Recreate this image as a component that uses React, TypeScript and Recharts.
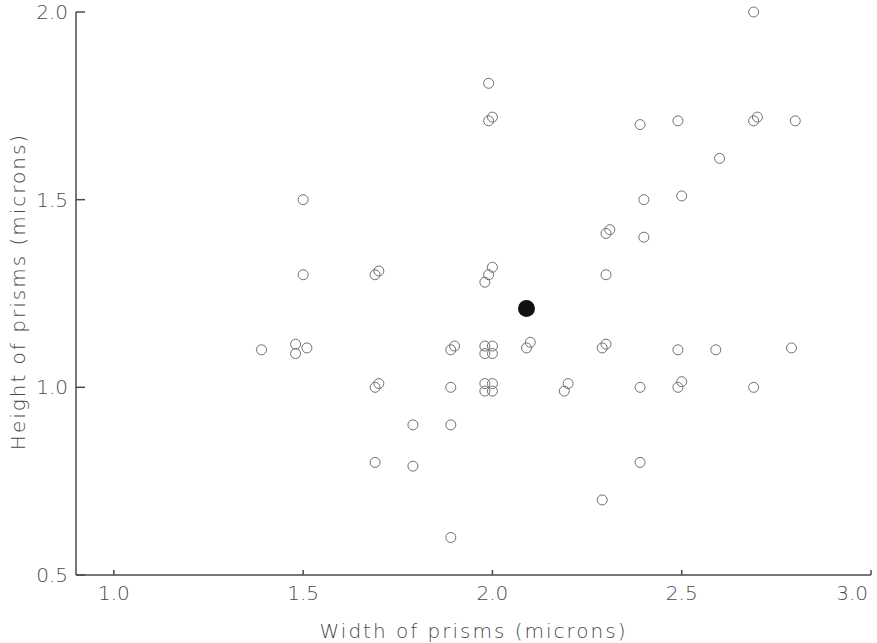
import React from 'react';
import { ScatterChart, Scatter, XAxis, YAxis } from 'recharts';

// open circles: width / height of prisms (microns)
const widths = [
  2.69, 1.99, 1.99, 2.0, 2.39, 2.49, 2.69, 2.7, 2.8, 2.6,
  1.5, 2.4, 2.5, 2.3, 2.31, 2.4,
  1.5, 1.69, 1.7, 1.98, 1.99, 2.0, 2.3,
  1.39, 1.48, 1.48, 1.51, 1.89, 1.9, 1.98, 2.0, 1.98, 2.0, 2.09, 2.1, 2.29, 2.3, 2.49, 2.59, 2.79,
  1.69, 1.7, 1.89, 1.98, 2.0, 1.98, 2.0, 2.19, 2.2, 2.39, 2.49, 2.5, 2.69,
  1.79, 1.89, 1.69, 1.79, 2.39, 2.29, 1.89,
];
const heights = [
  2.0, 1.81, 1.71, 1.72, 1.7, 1.71, 1.71, 1.72, 1.71, 1.61,
  1.5, 1.5, 1.51, 1.41, 1.42, 1.4,
  1.3, 1.3, 1.31, 1.28, 1.3, 1.32, 1.3,
  1.1, 1.09, 1.115, 1.105, 1.1, 1.11, 1.11, 1.11, 1.09, 1.09, 1.105, 1.12, 1.105, 1.115, 1.1, 1.1, 1.105,
  1.0, 1.01, 1.0, 1.01, 1.01, 0.99, 0.99, 0.99, 1.01, 1.0, 1.0, 1.015, 1.0,
  0.9, 0.9, 0.8, 0.79, 0.8, 0.7, 0.6,
];

// the single solid point
const meanWidth = [2.09];
const meanHeight = [1.21];

const xTicks = [1.0, 1.5, 2.0, 2.5, 3.0];
const yTicks = [0.5, 1.0, 1.5, 2.0];

const openData = widths.map((w, i) => ({ w, h: heights[i] }));
const meanData = meanWidth.map((w, i) => ({ w, h: meanHeight[i] }));

const INK = '#4a4a4a';
const FONT = '"DejaVu Sans", sans-serif';

const OpenDot = (props: any) => (
  <circle cx={props.cx} cy={props.cy} r={5} fill="none" stroke="#707070" strokeWidth={1} />
);
const SolidDot = (props: any) => <circle cx={props.cx} cy={props.cy} r={8.5} fill="#111" />;

// x tick label; the last one is pulled inside the frame
const XTick = ({ x, y, payload, index, visibleTicksCount }: any) => {
  const last = index === visibleTicksCount - 1;
  return (
    <text
      x={last ? x - 3 : x}
      y={y + 30}
      textAnchor={last ? 'end' : 'middle'}
      fill={INK}
      fontSize={20}
      fontWeight={200}
      fontFamily={FONT}
    >
      {payload.value.toFixed(1)}
    </text>
  );
};

const XTitle = ({ viewBox }: any) => (
  <text
    x={viewBox.x + viewBox.width / 2}
    y={viewBox.y + viewBox.height + 25}
    textAnchor="middle"
    fill={INK}
    fontSize={20}
    fontWeight={200}
    fontFamily={FONT}
    letterSpacing={2}
  >
    Width of prisms (microns)
  </text>
);

const YTitle = ({ viewBox }: any) => {
  const cx = viewBox.x + 5;
  const cy = viewBox.y + viewBox.height / 2 - 2;
  return (
    <text
      x={cx}
      y={cy}
      transform={`rotate(-90 ${cx} ${cy})`}
      textAnchor="middle"
      fill={INK}
      fontSize={20}
      fontWeight={200}
      fontFamily={FONT}
      letterSpacing={2}
    >
      Height of prisms (microns)
    </text>
  );
};

export default function App() {
  const tickStyle = { fill: INK, fontSize: 20, fontWeight: 200, fontFamily: FONT };
  return (
    <div style={{ position: 'absolute', left: 0, top: 0, background: '#fff' }}>
      <ScatterChart width={877} height={643} margin={{ top: 12, right: 6, left: 20, bottom: 30 }}>
        <XAxis
          type="number"
          dataKey="w"
          domain={[0.9, 3.0]}
          ticks={xTicks}
          height={38}
          tickSize={-5}
          tickMargin={0}
          stroke={INK}
          strokeWidth={1.5}
          tick={<XTick />}
          label={<XTitle />}
        />
        <YAxis
          type="number"
          dataKey="h"
          domain={[0.5, 2.0]}
          ticks={yTicks}
          tickFormatter={(v: number) => v.toFixed(1)}
          width={56}
          tickSize={-9}
          tickMargin={17}
          stroke={INK}
          strokeWidth={1.5}
          tick={tickStyle}
          label={<YTitle />}
        />
        <Scatter data={openData} shape={OpenDot} isAnimationActive={false} />
        <Scatter data={meanData} shape={SolidDot} isAnimationActive={false} />
      </ScatterChart>
    </div>
  );
}
